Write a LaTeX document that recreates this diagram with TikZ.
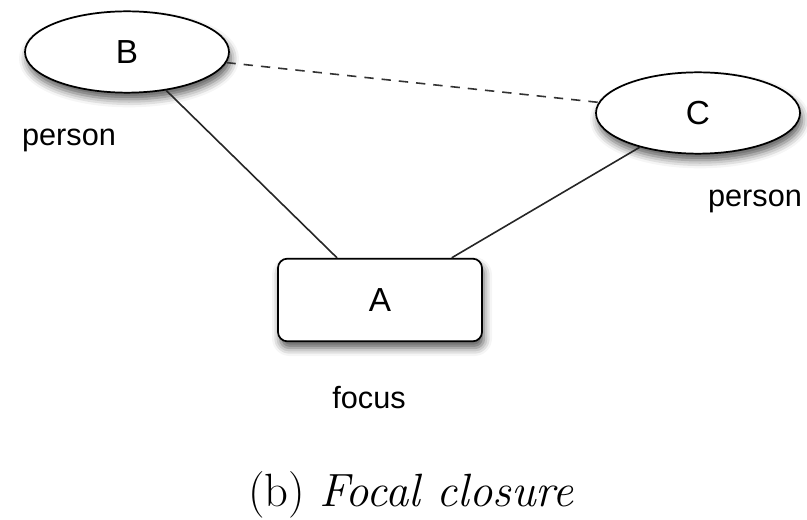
\documentclass[tikz,border=0pt]{standalone}
\usepackage{fontspec}
\usetikzlibrary{shapes.geometric, shadows.blur}
\newfontfamily\labelfont{Liberation Sans}

\begin{document}
\begin{tikzpicture}[x=0.75pt, y=-0.75pt,
    person/.style={ellipse, draw, fill=white, line width=1.3pt, minimum width=153pt, minimum height=61pt,
        blur shadow={shadow xshift=1.5pt, shadow yshift=-5pt, shadow blur radius=6pt, shadow opacity=65},
        font=\labelfont\fontsize{25}{28}\selectfont},
    focusbox/.style={rectangle, rounded corners=7pt, draw, fill=white, line width=1.3pt, minimum width=153pt, minimum height=62pt,
        blur shadow={shadow xshift=1.5pt, shadow yshift=-5pt, shadow blur radius=6pt, shadow opacity=65},
        font=\labelfont\fontsize{25}{28}\selectfont},
    tag/.style={font=\labelfont\fontsize{23}{28}\selectfont}]
    \useasboundingbox (0,0) rectangle (807,520);
    % the three nodes
    \node [person] (B) at (127,52) {B};
    \node [person] (C) at (698,113) {C};
    \node [focusbox] (A) at (380,300) {A};
    % ties
    \draw [line width=1.2pt, color=black!85] (B) -- (A);
    \draw [line width=1.2pt, color=black!85] (C) -- (A);
    \draw [line width=1.2pt, color=black!80, dash pattern=on 7pt off 6pt] (B) -- (C);
    % roles
    \node [tag] (pb) at (69,140) {person};
    \node [tag] (pc) at (755,201) {person};
    \node [tag] (fa) at (369,398) {focus};
    \node [anchor=base] (cap) at (411,506) {\fontsize{35}{40}\selectfont (b)\ \textit{Focal closure}};
\end{tikzpicture}
\end{document}
